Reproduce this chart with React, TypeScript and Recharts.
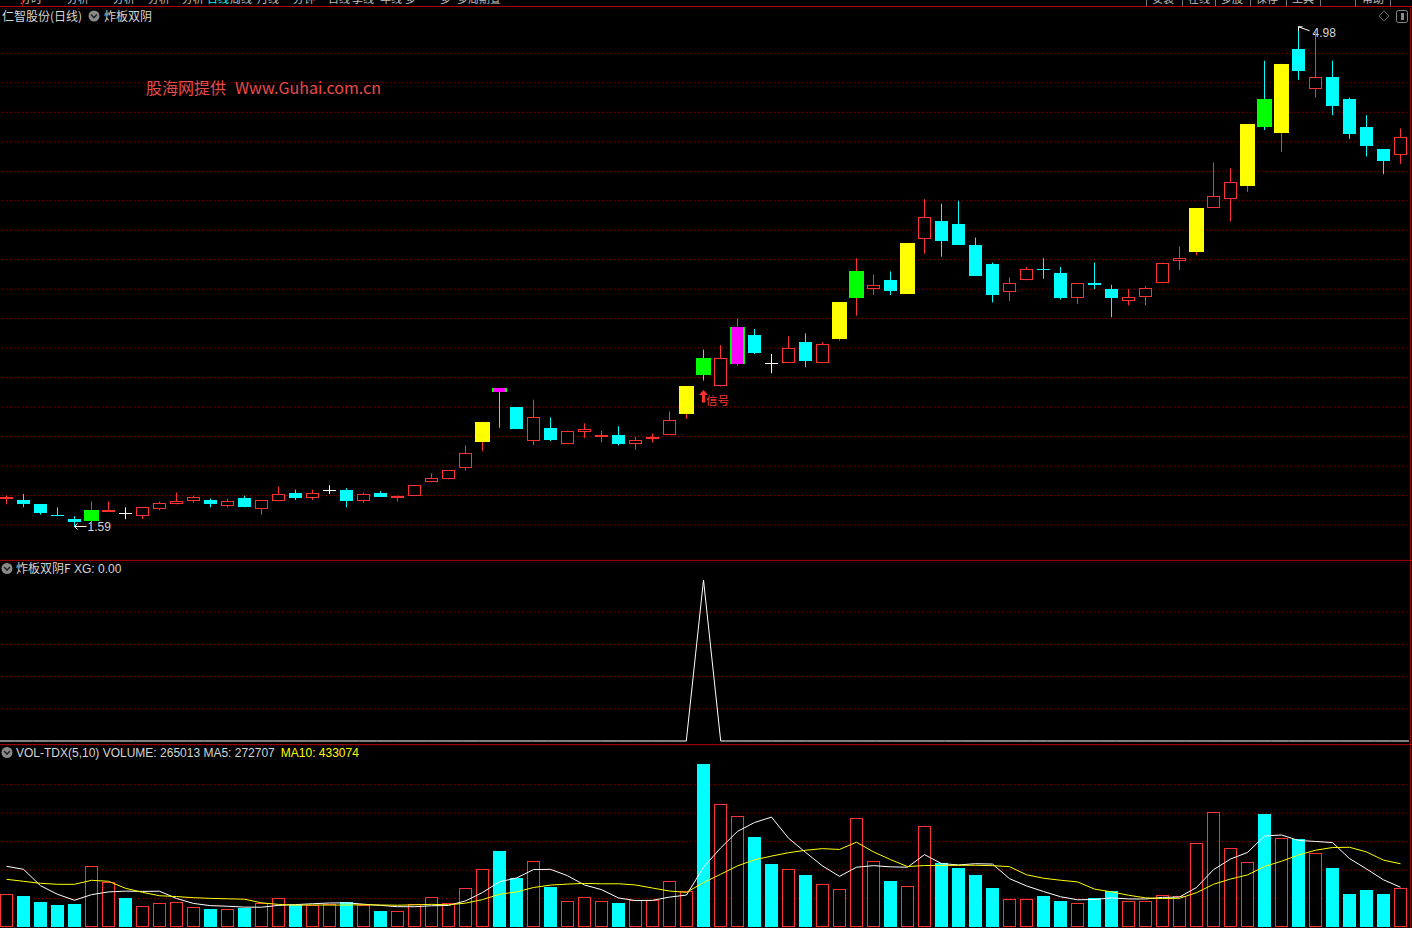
import React from 'react'
import { ComposedChart, Bar, Line, XAxis, YAxis, CartesianGrid } from 'recharts'

// daily prices (yuan)
const openP = [
	1.78, 1.77, 1.74, 1.67, 1.64, 1.63, 1.69, 1.68, 1.66, 1.71,
	1.74, 1.76, 1.77, 1.73, 1.78, 1.71, 1.76, 1.82, 1.78, 1.84,
	1.84, 1.76, 1.82, 1.78, 1.80, 1.89, 1.91, 1.99, 2.16, 2.53,
	2.40, 2.17, 2.26, 2.15, 2.23, 2.20, 2.21, 2.15, 2.19, 2.21,
	2.35, 2.73, 2.54, 2.69, 2.89, 2.70, 2.70, 2.84, 2.70, 2.86,
	3.14, 3.20, 3.26, 3.17, 3.54, 3.66, 3.64, 3.50, 3.37, 3.18,
	3.26, 3.34, 3.31, 3.14, 3.24, 3.20, 3.12, 3.15, 3.24, 3.39,
	3.45, 3.75, 3.81, 3.90, 4.49, 4.26, 4.83, 4.56, 4.64, 4.49,
	4.30, 4.15, 4.11,
]
const highP = [
	1.80, 1.81, 1.74, 1.72, 1.66, 1.76, 1.76, 1.72, 1.72, 1.76,
	1.82, 1.80, 1.78, 1.78, 1.80, 1.77, 1.86, 1.84, 1.84, 1.87,
	1.85, 1.82, 1.83, 1.80, 1.87, 1.95, 1.97, 2.14, 2.30, 2.53,
	2.40, 2.45, 2.33, 2.24, 2.29, 2.24, 2.27, 2.20, 2.22, 2.37,
	2.54, 2.79, 2.82, 3.00, 2.93, 2.76, 2.88, 2.90, 2.84, 3.11,
	3.41, 3.30, 3.32, 3.51, 3.81, 3.78, 3.80, 3.55, 3.38, 3.28,
	3.35, 3.41, 3.35, 3.24, 3.38, 3.23, 3.20, 3.22, 3.38, 3.49,
	3.75, 4.06, 4.02, 4.32, 4.75, 4.73, 4.98, 4.95, 4.75, 4.50,
	4.38, 4.15, 4.29,
]
const lowP = [
	1.74, 1.72, 1.67, 1.66, 1.59, 1.62, 1.69, 1.64, 1.64, 1.70,
	1.74, 1.75, 1.72, 1.72, 1.72, 1.67, 1.76, 1.77, 1.77, 1.81,
	1.72, 1.75, 1.79, 1.76, 1.80, 1.89, 1.91, 1.97, 2.10, 2.26,
	2.25, 2.14, 2.17, 2.15, 2.19, 2.16, 2.14, 2.11, 2.16, 2.21,
	2.32, 2.58, 2.54, 2.68, 2.76, 2.63, 2.70, 2.67, 2.70, 2.85,
	3.02, 3.16, 3.16, 3.17, 3.44, 3.42, 3.50, 3.29, 3.11, 3.12,
	3.26, 3.27, 3.13, 3.10, 3.20, 3.01, 3.09, 3.09, 3.24, 3.33,
	3.43, 3.75, 3.66, 3.86, 4.28, 4.13, 4.62, 4.50, 4.38, 4.22,
	4.10, 3.98, 4.05,
]
const closeP = [
	1.79, 1.74, 1.68, 1.66, 1.62, 1.70, 1.70, 1.68, 1.72, 1.75,
	1.76, 1.79, 1.74, 1.76, 1.72, 1.77, 1.81, 1.78, 1.82, 1.84,
	1.76, 1.81, 1.79, 1.80, 1.87, 1.92, 1.97, 2.09, 2.30, 2.50,
	2.25, 2.33, 2.18, 2.24, 2.25, 2.21, 2.15, 2.18, 2.20, 2.31,
	2.54, 2.62, 2.73, 2.94, 2.77, 2.70, 2.80, 2.71, 2.83, 3.11,
	3.32, 3.23, 3.19, 3.51, 3.69, 3.53, 3.50, 3.29, 3.16, 3.24,
	3.34, 3.33, 3.14, 3.24, 3.23, 3.14, 3.15, 3.21, 3.38, 3.41,
	3.75, 3.83, 3.93, 4.32, 4.30, 4.73, 4.68, 4.64, 4.44, 4.25,
	4.17, 4.07, 4.23,
]
const volume = [
	224000, 212400, 171300, 150700, 157600, 415800, 306200, 198700, 141800, 162300,
	169200, 134900, 123300, 121200, 132200, 166500, 196600, 150700, 150700, 157600,
	171300, 150700, 109600, 107500, 155500, 203400, 162300, 265100, 395200, 520600,
	335700, 450000, 274000, 176000, 203400, 176000, 164400, 185000, 185000, 313000,
	246600, 1116600, 840500, 758300, 616500, 431600, 395200, 356200, 292500, 258200,
	744600, 450000, 315100, 278800, 689800, 438400, 404200, 356200, 267200, 189700,
	189700, 212400, 178100, 162300, 198700, 246600, 176000, 176000, 217100, 210300,
	573300, 787800, 539100, 443200, 774100, 607600, 600700, 504800, 404200, 226100,
	253500, 226100, 265013,
]
const ma5 = [
	415800, 395200, 282900, 224000, 183200, 221500, 240300, 245800, 244000, 245000,
	195600, 161400, 146300, 142200, 136200, 135600, 148000, 153400, 159300, 164400,
	165400, 156200, 148000, 139300, 138900, 145400, 147700, 178800, 236300, 309300,
	335800, 393300, 395100, 351300, 287800, 255900, 198800, 181000, 182800, 204700,
	218800, 409200, 540300, 655000, 715700, 752700, 608400, 511600, 418400, 346700,
	409400, 420300, 412100, 409400, 495700, 434400, 425200, 433500, 431100, 331100,
	281400, 243000, 207400, 186500, 188200, 199600, 192300, 191900, 202900, 205200,
	270600, 392900, 465500, 510700, 623500, 630300, 592900, 586100, 578300, 468700,
	397800, 322900, 272707,
]
const ma10 = [
	326700, 313000, 299300, 292500, 292500, 319900, 313000, 265100, 237700, 214100,
	208600, 200800, 196000, 193100, 190600, 165600, 154700, 149900, 150800, 150300,
	150500, 152100, 150700, 149300, 151700, 155400, 151900, 163400, 187800, 224100,
	240600, 270500, 286900, 293800, 298600, 295900, 296100, 288000, 267000, 246300,
	237400, 304000, 360700, 418900, 460200, 485700, 508800, 525900, 536700, 531200,
	581000, 514400, 461800, 413900, 421200, 421900, 422800, 422800, 420200, 413400,
	357900, 334100, 320400, 308800, 259700, 240500, 217700, 199700, 194700, 196700,
	235100, 292600, 328700, 356800, 414400, 450500, 492900, 525800, 544500, 546100,
	514100, 457900, 433074,
]
// 炸板双阴F XG signal
const xgSignal = [
	0, 0, 0, 0, 0, 0, 0, 0, 0, 0,
	0, 0, 0, 0, 0, 0, 0, 0, 0, 0,
	0, 0, 0, 0, 0, 0, 0, 0, 0, 0,
	0, 0, 0, 0, 0, 0, 0, 0, 0, 0,
	0, 1, 0, 0, 0, 0, 0, 0, 0, 0,
	0, 0, 0, 0, 0, 0, 0, 0, 0, 0,
	0, 0, 0, 0, 0, 0, 0, 0, 0, 0,
	0, 0, 0, 0, 0, 0, 0, 0, 0, 0,
	0, 0, 0,
]

const limitUpDays = [28, 40, 49, 53, 70, 73, 75]
const greenDays = [5, 41, 50, 74]
const brokenBoardDays = [29, 43]
const signalDays = [41]

const priceTicks = [1.6, 1.8, 2.0, 2.2, 2.4, 2.6, 2.8, 3.0, 3.2, 3.4, 3.6, 3.8, 4.0, 4.2, 4.4, 4.6, 4.8]
const xgTicks = [0.2, 0.4, 0.6, 0.8]
const volTicks = [195000, 390000, 585000, 780000, 975000]

// menu strip at the very top, mostly cut off by the window edge
const topMenuLeft = ['分时', '分析', '分析', '分析', '分析', '日线', '周线', '月线', '分钟', '日线', '季线', '年线', '多', '多', '多周期叠']
const topMenuLeftX = [20, 67, 113, 148, 182, 207, 230, 257, 293, 328, 352, 380, 405, 440, 457]
const topMenuRight = ['安装', '在线', '多股', '保存', '工具', '', '帮助']
const topMenuRightX = [1152, 1188, 1221, 1256, 1292, 1326, 1362]
const topMenuSepX = [1146, 1182, 1215, 1250, 1286, 1320, 1355, 1390]

const RED = '#ff3232'
const CYAN = '#00ffff'
const YELLOW = '#ffff00'
const GREEN = '#00ff00'
const MAGENTA = '#ff00ff'
const WHITE = '#ffffff'
const GRID = '#8c0000'
const SEP = '#9a0000'
const LABEL = '#d6d6d6'
const CJK = '"Noto Sans CJK SC", "Liberation Sans", sans-serif'
const LATIN = '"Liberation Sans", Arial, sans-serif'

const CHART_LEFT = -2
const CHART_W = 1411

const rows = openP.map((o, i) => ({
	day: i,
	idx: i,
	open: o,
	high: highP[i],
	low: lowP[i],
	close: closeP[i],
	prevClose: i > 0 ? closeP[i - 1] : o,
	range: [lowP[i], highP[i]],
	volume: volume[i],
	ma5: ma5[i],
	ma10: ma10[i],
	xg: xgSignal[i],
}))

const lowIdx = lowP.indexOf(Math.min(...lowP))
const highIdx = highP.indexOf(Math.max(...highP))

const CandleShape = (props: any) => {
	const { x, y, width, height, payload } = props
	if (x == null || y == null || !payload) return null
	const { open, close, high, low, idx } = payload
	const top = Math.min(y, y + height)
	const h = Math.abs(height)
	const yOf = (v: number) => top + ((high - v) / (high - low)) * h
	const cx = Math.floor(x + width / 2) + 0.5
	const yH = yOf(high)
	const yL = yOf(low)
	const yO = yOf(open)
	const yC = yOf(close)
	const up = close > open
	const down = close < open
	const base = up ? RED : down ? CYAN : WHITE
	const bTop = Math.round(Math.min(yO, yC))
	const bBot = Math.round(Math.max(yO, yC))

	let body: React.ReactNode = null
	if (!up && !down) {
		const yy = Math.round(yO) + 0.5
		body = (
			<g>
				<line x1={cx} x2={cx} y1={yH} y2={yL} stroke={base} />
				<line x1={cx - 6.5} x2={cx + 6.5} y1={yy} y2={yy} stroke={base} />
			</g>
		)
	} else if (limitUpDays.includes(idx) || greenDays.includes(idx) || brokenBoardDays.includes(idx)) {
		const fill = limitUpDays.includes(idx) ? YELLOW : GREEN
		const bh = Math.max(1, bBot - bTop)
		body = (
			<g>
				<line x1={cx} x2={cx} y1={yH} y2={yL} stroke={base} />
				<rect x={cx - 7.5} y={bTop} width={15} height={bh} fill={fill} />
				{brokenBoardDays.includes(idx) && (
					<rect x={cx - 5.5} y={bTop} width={11} height={bh} fill={MAGENTA} />
				)}
			</g>
		)
	} else if (up && bBot - bTop < 3) {
		// very small real body: drawn as a solid red bar
		body = (
			<g>
				<line x1={cx} x2={cx} y1={yH} y2={yL} stroke={RED} />
				<rect x={cx - 6.5} y={bTop} width={13} height={Math.max(2, bBot - bTop)} fill={RED} />
			</g>
		)
	} else if (up) {
		body = (
			<g>
				<line x1={cx} x2={cx} y1={yH} y2={bTop + 0.5} stroke={RED} />
				<line x1={cx} x2={cx} y1={bBot - 0.5} y2={yL} stroke={RED} />
				<rect x={cx - 6} y={bTop + 0.5} width={12} height={Math.max(0, bBot - bTop - 1)} fill="#000" stroke={RED} />
			</g>
		)
	} else {
		body = (
			<g>
				<line x1={cx} x2={cx} y1={yH} y2={yL} stroke={CYAN} />
				<rect x={cx - 6.5} y={bTop} width={13} height={Math.max(1, bBot - bTop)} fill={CYAN} />
			</g>
		)
	}

	return (
		<g>
			{body}
			{idx === lowIdx && (
				<g>
					<line x1={cx} x2={cx + 12} y1={yL} y2={yL} stroke={WHITE} />
					<line x1={cx} x2={cx + 3} y1={yL} y2={yL - 3} stroke={WHITE} />
					<line x1={cx} x2={cx + 3} y1={yL} y2={yL + 3} stroke={WHITE} />
					<text x={cx + 13} y={yL + 5} fill={LABEL} fontSize={12} fontFamily={LATIN}>{low.toFixed(2)}</text>
				</g>
			)}
			{idx === highIdx && (
				<g>
					<line x1={cx} x2={cx + 4} y1={yH} y2={yH} stroke={WHITE} />
					<line x1={cx} x2={cx} y1={yH} y2={yH + 4} stroke={WHITE} />
					<line x1={cx} x2={cx + 11} y1={yH} y2={yH + 4} stroke={WHITE} />
					<text x={cx + 14} y={yH + 10} fill={LABEL} fontSize={12} fontFamily={LATIN}>{high.toFixed(2)}</text>
				</g>
			)}
			{signalDays.includes(idx) && (
				<g>
					<polygon points={`${cx},${yL + 9.5} ${cx - 4.5},${yL + 14.5} ${cx + 4.5},${yL + 14.5}`} fill={RED} />
					<rect x={cx - 1.5} y={yL + 14} width={3} height={8} fill={RED} />
					<text x={cx + 2.5} y={yL + 24} fill={RED} fontSize={11.5} fontFamily={CJK}>信号</text>
				</g>
			)}
		</g>
	)
}

const VolumeShape = (props: any) => {
	const { x, y, width, height, payload } = props
	if (x == null || y == null || !payload) return null
	const { open, close, prevClose } = payload
	const up = close > open || (close === open && close >= prevClose)
	const cx = Math.floor(x + width / 2) + 0.5
	const top = Math.round(y)
	const bottom = Math.round(y + height)
	if (up) {
		return <rect x={cx - 6} y={top + 0.5} width={12} height={Math.max(0, bottom - top - 1)} fill="#000" stroke={RED} />
	}
	return <rect x={cx - 6.5} y={top} width={13} height={Math.max(1, bottom - top)} fill={CYAN} />
}

const PanelIcon = ({ x, y }: { x: number; y: number }) => (
	<g>
		<circle cx={x} cy={y} r={5.5} fill="#8a8a8a" />
		<path d={`M${x - 3} ${y - 1.5} L${x} ${y + 1.5} L${x + 3} ${y - 1.5}`} stroke="#262626" strokeWidth={1.6} fill="none" />
	</g>
)

export default function App() {
	return (
		<div style={{ position: 'fixed', left: 0, top: 0, width: 1412, height: 928, background: '#000', overflow: 'hidden' }}>
			{/* main candlestick panel */}
			<div style={{ position: 'absolute', left: CHART_LEFT, top: 8 }}>
				<ComposedChart width={CHART_W} height={552} data={rows} margin={{ top: 0, right: 0, bottom: 0, left: 0 }}>
					<XAxis dataKey="day" hide />
					<YAxis hide domain={[1.3626, 5.1075]} ticks={priceTicks} allowDataOverflow />
					<CartesianGrid vertical={false} stroke={GRID} strokeDasharray="1 3" />
					<Bar dataKey="range" barSize={13} shape={<CandleShape />} isAnimationActive={false} />
				</ComposedChart>
			</div>

			{/* XG signal panel */}
			<div style={{ position: 'absolute', left: CHART_LEFT, top: 562 }}>
				<ComposedChart width={CHART_W} height={183} data={rows} margin={{ top: 0, right: 0, bottom: 0, left: 0 }}>
					<XAxis dataKey="day" hide />
					<YAxis hide domain={[-0.0248, 1.1118]} ticks={xgTicks} allowDataOverflow />
					<CartesianGrid vertical={false} stroke={GRID} strokeDasharray="1 3" />
					<Line type="linear" dataKey="xg" stroke={WHITE} strokeWidth={1} dot={false} isAnimationActive={false} />
				</ComposedChart>
			</div>

			{/* volume panel */}
			<div style={{ position: 'absolute', left: CHART_LEFT, top: 745 }}>
				<ComposedChart width={CHART_W} height={183} data={rows} margin={{ top: 0, right: 0, bottom: 0, left: 0 }}>
					<XAxis dataKey="day" hide />
					<YAxis hide domain={[-6850, 1246700]} ticks={volTicks} allowDataOverflow />
					<CartesianGrid vertical={false} stroke={GRID} strokeDasharray="1 3" />
					<Bar dataKey="volume" barSize={13} shape={<VolumeShape />} isAnimationActive={false} />
					<Line type="linear" dataKey="ma5" stroke={WHITE} strokeWidth={1} dot={false} isAnimationActive={false} />
					<Line type="linear" dataKey="ma10" stroke={YELLOW} strokeWidth={1} dot={false} isAnimationActive={false} />
				</ComposedChart>
			</div>

			{/* frame, titles and labels */}
			<svg width={1412} height={928} style={{ position: 'absolute', left: 0, top: 0, pointerEvents: 'none' }}>
				{topMenuLeft.map((t, i) => (
					<text key={'l' + i} x={topMenuLeftX[i]} y={2.5} fill={i === 5 ? CYAN : '#c0c0c0'} fontSize={11} fontFamily={CJK}>{t}</text>
				))}
				{topMenuRight.map((t, i) => (
					<text key={'r' + i} x={topMenuRightX[i]} y={2.5} fill="#c0c0c0" fontSize={11} fontFamily={CJK}>{t}</text>
				))}
				{topMenuSepX.map((sx, i) => (
					<line key={'s' + i} x1={sx + 0.5} x2={sx + 0.5} y1={0} y2={6} stroke="#7a7a7a" />
				))}
				<line x1={22.5} x2={22.5} y1={0} y2={6} stroke={SEP} />
				<line x1={0} x2={1412} y1={6.5} y2={6.5} stroke="#b00000" />
				<line x1={0} x2={1412} y1={560.5} y2={560.5} stroke={SEP} />
				<line x1={0} x2={1412} y1={744.5} y2={744.5} stroke={SEP} />
				<line x1={1410.5} x2={1410.5} y1={7} y2={928} stroke={SEP} />

				<text x={2} y={21} fill={LABEL} fontSize={12} fontFamily={CJK}>仁智股份(日线)</text>
				<PanelIcon x={94} y={16} />
				<text x={104} y={21} fill={LABEL} fontSize={12} fontFamily={CJK}>炸板双阴</text>

				<text x={146} y={94} fill="#ea4a4a" fontSize={16} fontFamily={CJK}>
					股海网提供<tspan dx={9}>Www.Guhai.com.cn</tspan>
				</text>

				<path d="M1384 11 L1389 16 L1384 21 L1379 16 Z" stroke="#6e6e6e" fill="none" />
				<rect x={1396.5} y={10.5} width={11} height={12} rx={2} stroke="#8a8a8a" fill="none" />
				<rect x={1401} y={13} width={3} height={7} fill="#8a8a8a" />

				<PanelIcon x={7} y={568.5} />
				<text x={16} y={573} fill={LABEL} fontSize={12} fontFamily={CJK}>
					炸板双阴F<tspan fontFamily={LATIN}> XG: 0.00</tspan>
				</text>

				<PanelIcon x={7} y={752.5} />
				<text x={16} y={757} fill={LABEL} fontSize={12} fontFamily={LATIN}>
					VOL-TDX(5,10) VOLUME: 265013 MA5: 272707<tspan fill={YELLOW} dx={6}>MA10: 433074</tspan>
				</text>
			</svg>
		</div>
	)
}
